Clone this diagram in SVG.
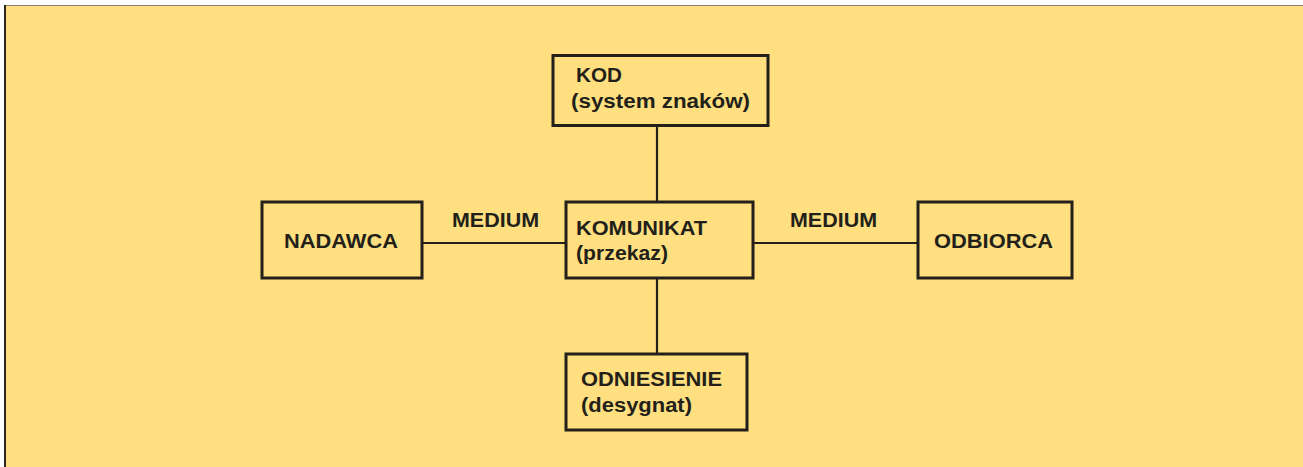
<svg xmlns="http://www.w3.org/2000/svg" width="1303" height="467" viewBox="0 0 1303 467">
<style>
.box{fill:none;stroke:#231f1a;stroke-width:3}
.con{stroke:#231f1a;stroke-width:2.2;fill:none}
.t{font-family:"Liberation Sans",Arial,sans-serif;font-weight:bold;font-size:19.5px;fill:#231f1a}
</style>
<rect x="0" y="0" width="1303" height="467" fill="#ffffff"/>
<rect x="5" y="5.5" width="1298" height="462" fill="#ffdf80"/>
<line x1="5" y1="5.5" x2="1303" y2="5.5" stroke="#8a8070" stroke-width="1"/>
<line x1="5" y1="5" x2="5" y2="467" stroke="#2a2622" stroke-width="2"/>
<g id="connectors">
<line class="con" x1="657" y1="125" x2="657" y2="202"/>
<line class="con" x1="657" y1="278" x2="657" y2="354"/>
<line class="con" x1="422" y1="243" x2="566" y2="243"/>
<line class="con" x1="753" y1="243" x2="918" y2="243"/>
<text class="t" x="452" y="227" textLength="87" lengthAdjust="spacingAndGlyphs">MEDIUM</text>
<text class="t" x="790" y="227" textLength="87" lengthAdjust="spacingAndGlyphs">MEDIUM</text>
</g>
<g id="kod">
<rect class="box" x="553" y="55.5" width="215" height="70"/>
<text class="t" x="576" y="82" textLength="46" lengthAdjust="spacingAndGlyphs">KOD</text>
<text class="t" x="571" y="108" textLength="179" lengthAdjust="spacingAndGlyphs">(system znaków)</text>
</g>
<g id="nadawca">
<rect class="box" x="262" y="202" width="160" height="76"/>
<text class="t" x="284" y="248" textLength="114" lengthAdjust="spacingAndGlyphs">NADAWCA</text>
</g>
<g id="komunikat">
<rect class="box" x="566" y="202" width="187" height="76"/>
<text class="t" x="576" y="235" textLength="131" lengthAdjust="spacingAndGlyphs">KOMUNIKAT</text>
<text class="t" x="576" y="260" textLength="92" lengthAdjust="spacingAndGlyphs">(przekaz)</text>
</g>
<g id="odbiorca">
<rect class="box" x="918" y="202" width="154" height="76"/>
<text class="t" x="934" y="248" textLength="119" lengthAdjust="spacingAndGlyphs">ODBIORCA</text>
</g>
<g id="odniesienie">
<rect class="box" x="566" y="354" width="181" height="76"/>
<text class="t" x="581" y="386" textLength="141" lengthAdjust="spacingAndGlyphs">ODNIESIENIE</text>
<text class="t" x="581" y="412" textLength="111" lengthAdjust="spacingAndGlyphs">(desygnat)</text>
</g>
</svg>
